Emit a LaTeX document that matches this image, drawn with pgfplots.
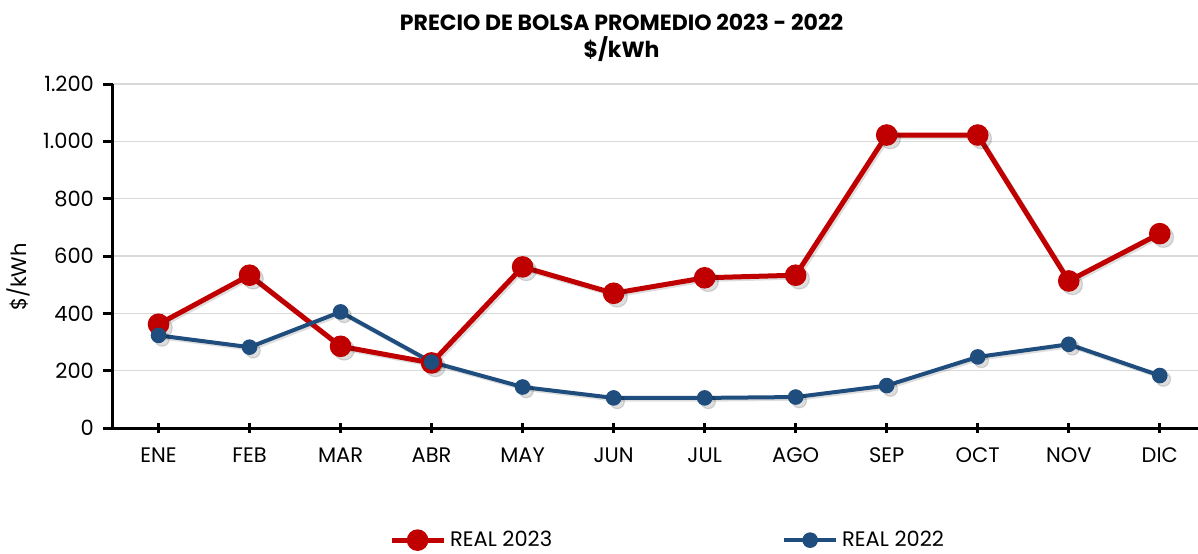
\documentclass[border=0pt]{standalone}
\usepackage{fontspec}
\setmainfont{Poppins}
\usepackage{pgfplots}
\pgfplotsset{compat=1.18}
\definecolor{real23}{RGB}{192,0,0}
\definecolor{real22}{RGB}{31,77,126}
\definecolor{gridgray}{RGB}{217,217,217}

\pgfplotstableread{
x y23 y22
0  362 323
1  533 282
2  285 405
3  227 230
4  562 143
5  470 105
6  524 105
7  533 108
8  1022 148
9  1022 248
10 513 292
11 678 183
}\datos

\begin{document}
\begin{tikzpicture}
\begin{axis}[
  scale only axis,
  width=542.5pt, height=172pt,
  xmin=-0.5, xmax=11.42, ymin=0, ymax=1200,
  axis x line=bottom, axis y line=left,
  axis line style={line width=1.5pt,-},
  xtick={0,...,11},
  xticklabels={ENE,FEB,MAR,ABR,MAY,JUN,JUL,AGO,SEP,OCT,NOV,DIC},
  ytick={0,200,...,1200},
  xtick align=center, ytick align=outside,
  x tick style={line width=1.5pt,black}, y tick style={line width=1.5pt,black},
  major tick length=5pt,
  ymajorgrids, grid style={gridgray,line width=0.75pt},
  tick label style={font=\fontsize{10.5}{12}\selectfont},
  xticklabel style={yshift=-4pt},
  yticklabel style={xshift=-1pt},
  /pgf/number format/.cd, 1000 sep={.}, assume math mode=true,
  /pgfplots/.cd,
  ylabel={\$/kWh},
  every axis y label/.style={at={(axis description cs:-0.0876,0.439)},rotate=90,anchor=center,font=\fontsize{10.5}{12}\selectfont},
  title={\textbf{PRECIO DE BOLSA PROMEDIO 2023 - 2022}\\\textbf{\$/kWh}},
  title style={at={(axis description cs:0.4687,1.098)},anchor=center,align=center,font=\fontsize{11}{13.5}\selectfont},
  legend style={draw=none,at={(0.512,-0.326)},anchor=center,legend columns=2,
    font=\fontsize{10.5}{12}\selectfont,
    /tikz/every even column/.append style={column sep=113pt}},
  legend image code/.code={\draw[mark repeat=2,mark phase=2,#1] plot coordinates {(0pt,0pt) (13pt,0pt) (26pt,0pt)};},
  clip=false,
]
\addplot[forget plot,black,opacity=0.13,line width=2.5pt,mark=*,mark size=5.1pt,mark options={line width=0.6pt},
  transform canvas={xshift=0.9pt,yshift=-0.9pt}] table[x=x,y=y23]{\datos};
\addplot[forget plot,black,opacity=0.13,line width=2pt,mark=*,mark size=3.6pt,mark options={line width=0.6pt},
  transform canvas={xshift=0.9pt,yshift=-0.9pt}] table[x=x,y=y22]{\datos};
\addplot[real23,line width=2.5pt,mark=*,mark size=5.1pt,mark options={line width=0.6pt}] table[x=x,y=y23]{\datos};
\addlegendentry{REAL 2023}
\addplot[real22,line width=2pt,mark=*,mark size=3.6pt,mark options={line width=0.6pt}] table[x=x,y=y22]{\datos};
\addlegendentry{REAL 2022}
\end{axis}
\pgfresetboundingbox
\useasboundingbox (-56.5pt,-62.5pt) rectangle (542.5pt,214pt);
\end{tikzpicture}
\end{document}
